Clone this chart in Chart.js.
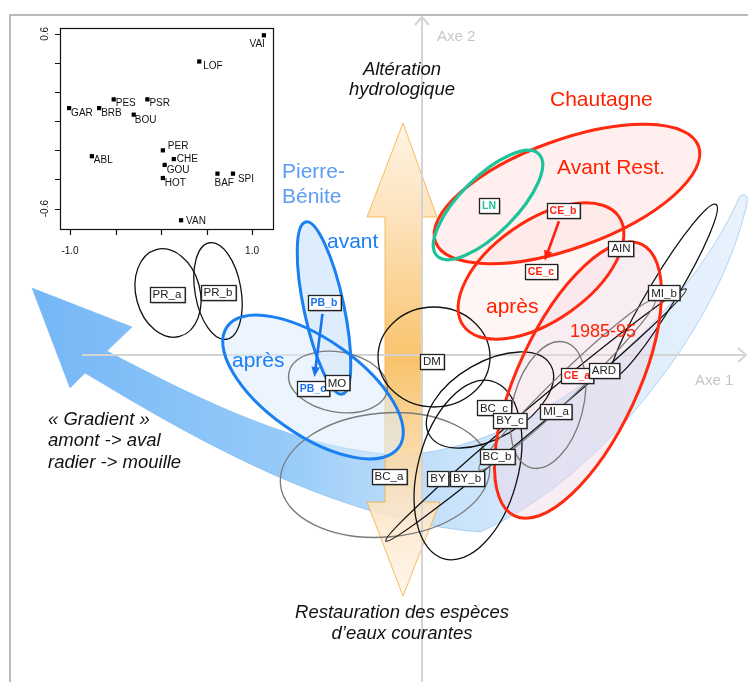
<!DOCTYPE html>
<html>
<head>
<meta charset="utf-8">
<script src="https://cdn.jsdelivr.net/npm/chart.js@4.4.1/dist/chart.umd.min.js"></script>
<style>
  html, body { margin: 0; padding: 0; background: #fff; }
  #wrap { position: relative; width: 748px; height: 682px; }
  #main { position: absolute; left: 0; top: 0; }
  #inset { position: absolute; left: 20px; top: 20px; }
</style>
</head>
<body>
<div id="wrap">
  <canvas id="main" width="748" height="682"></canvas>
  <canvas id="inset" width="262" height="240"></canvas>
</div>
<script>
// Sites on the main plane (Axe 1, Axe 2)
const siteNames = ['PR_a', 'PR_b', 'PB_b', 'PB_c', 'MO', 'DM', 'BC_c', 'BY_c', 'BC_b', 'BC_a',
                   'BY', 'BY_b', 'CE_a', 'ARD', 'MI_a', 'LN', 'CE_b', 'AIN', 'CE_c', 'MI_b'];
const siteX = [-2.55, -2.04, -0.98, -1.09, -0.85, 0.10, 0.72, 0.88, 0.75, -0.33,
               0.16, 0.45, 1.55, 1.82, 1.34, 0.67, 1.41, 1.99, 1.19, 2.42];
const siteY = [0.61, 0.63, 0.53, -0.33, -0.28, -0.06, -0.53, -0.65, -1.01, -1.21,
               -1.23, -1.23, -0.20, -0.15, -0.56, 1.50, 1.45, 1.07, 0.84, 0.62];

// Dispersion ellipses (centre, semi-axes, angle in degrees)
const ellipseKind  = ['black', 'black', 'gray', 'black', 'gray', 'black', 'black', 'black', 'black', 'gray', 'gray',
                      'pbAvant', 'pbApres', 'ce8595', 'ceAvant', 'ceApres', 'ln'];
const ellipseX     = [-2.54, -2.04, -0.84, 0.12, -0.37, 0.46, 0.68, 2.42, 1.14, 1.26, 1.45,
                      -0.98, -1.09, 1.56, 1.45, 1.19, 0.66];
const ellipseY     = [0.62, 0.64, -0.27, -0.02, -1.20, -1.15, -0.45, 0.64, -0.60, -0.50, -0.30,
                      0.47, -0.32, -0.25, 1.61, 0.84, 1.50];
const ellipseRx    = [0.32, 0.23, 0.50, 0.56, 1.05, 0.50, 0.70, 1.01, 1.96, 0.35, 1.22,
                      0.20, 1.05, 1.50, 1.40, 0.95, 0.72];
const ellipseRy    = [0.45, 0.49, 0.30, 0.50, 0.62, 0.92, 0.38, 0.14, 0.10, 0.65, 0.12,
                      0.88, 0.48, 0.60, 0.54, 0.50, 0.28];
const ellipseAngle = [15, 10, -10, 0, 5, -15, 30, 59, 40, -15, 44,
                      12, -35, 65, 20, 35, 45];

// Trajectories before -> after restoration
const arrowFrom = ['PB_b', 'CE_b'];
const arrowTo   = ['PB_c', 'CE_c'];

// Inset: species scores
const insetNames = ['VAI', 'LOF', 'PES', 'PSR', 'GAR', 'BRB', 'BOU', 'PER', 'ABL', 'CHE', 'GOU', 'HOT', 'BAF', 'SPI', 'VAN'];
const insetX = [1.13, 0.42, -0.52, -0.15, -1.01, -0.68, -0.30, 0.02, -0.76, 0.14, 0.04, 0.02, 0.62, 0.79, 0.22];
const insetY = [0.59, 0.41, 0.15, 0.15, 0.09, 0.09, 0.045, -0.20, -0.24, -0.26, -0.30, -0.39, -0.36, -0.36, -0.68];
const insetXTicks = [-1.0, -0.5, 0, 0.5, 1.0];
const insetYTicks = [-0.6, -0.4, -0.2, 0, 0.2, 0.4, 0.6];

const FONT = '"Liberation Sans", Arial, sans-serif';

// styles
const ellipseStyle = {
  black:   { color: '#111', width: 1.3 },
  gray:    { color: '#7a7a7a', width: 1.3 },
  pbAvant: { color: '#1a7ff0', width: 3, fill: 'rgba(214,232,252,0.8)' },
  pbApres: { color: '#1a7ff0', width: 3, fill: 'rgba(220,236,252,0.55)' },
  ce8595:  { color: '#ff2a10', width: 3, fill: 'rgba(240,215,228,0.45)' },
  ceAvant: { color: '#ff2a10', width: 3, fill: 'rgba(255,214,214,0.38)' },
  ceApres: { color: '#ff2a10', width: 3, fill: 'rgba(255,222,222,0.3)' },
  ln:      { color: '#1fc39a', width: 3.2 }
};
function siteColor(name) {
  if (name.startsWith('PB')) return '#1a73ea';
  if (name.startsWith('CE')) return '#ff1e10';
  if (name === 'LN') return '#1fc39a';
  return '#222';
}
const insetLabelOffset = {
  VAI: [1, 12, 'right'], LOF: [4, 7], PES: [2, 7], PSR: [2, 7], GAR: [2, 8], BRB: [2, 8], BOU: [1, 8],
  PER: [5, -1], ABL: [2, 7], CHE: [3, 3], GOU: [2, 8], HOT: [2, 8], BAF: [-3, 12], SPI: [5, 8], VAN: [5, 4]
};
const notes = [
  { t: 'Axe 1', x: 2.73, y: -0.30, f: '15px', c: '#c6c6c6', a: 'left' },
  { t: 'Axe 2', x: 0.15, y: 3.14, f: '15px', c: '#c6c6c6', a: 'left' },
  { t: 'Altération', x: -0.20, y: 2.80, f: 'italic 18.5px', c: '#111', a: 'center' },
  { t: 'hydrologique', x: -0.20, y: 2.60, f: 'italic 18.5px', c: '#111', a: 'center' },
  { t: 'Chautagne', x: 1.28, y: 2.49, f: '21px', c: '#ff2200', a: 'left' },
  { t: 'Avant Rest.', x: 1.35, y: 1.81, f: '21px', c: '#ff2200', a: 'left' },
  { t: 'Pierre-', x: -1.40, y: 1.77, f: '21px', c: '#5b9cf4', a: 'left' },
  { t: 'Bénite', x: -1.40, y: 1.52, f: '21px', c: '#5b9cf4', a: 'left' },
  { t: 'avant', x: -0.95, y: 1.07, f: '21px', c: '#1a7ff0', a: 'left' },
  { t: 'après', x: -1.90, y: -0.12, f: '21px', c: '#1a7ff0', a: 'left' },
  { t: 'après', x: 0.64, y: 0.42, f: '21px', c: '#ff2200', a: 'left' },
  { t: '1985-95', x: 1.48, y: 0.18, f: '18px', c: '#ff2200', a: 'left' },
  { t: '« Gradient »', x: -3.74, y: -0.70, f: 'italic 18.5px', c: '#111', a: 'left' },
  { t: 'amont -> aval', x: -3.74, y: -0.91, f: 'italic 18.5px', c: '#111', a: 'left' },
  { t: 'radier -> mouille', x: -3.74, y: -1.13, f: 'italic 18.5px', c: '#111', a: 'left' },
  { t: 'Restauration des espèces', x: -0.20, y: -2.63, f: 'italic 18.5px', c: '#111', a: 'center' },
  { t: 'd’eaux courantes', x: -0.20, y: -2.84, f: 'italic 18.5px', c: '#111', a: 'center' }
];

// blue "gradient" band and orange double arrow, in plane units
const band = [
  ['M', -3.90, 0.67], ['L', -2.90, 0.28], ['L', -3.15, 0.04],
  ['C', -2.22, -0.45, -1.22, -0.95, -0.22, -1.00],
  ['C', 1.08, -0.95, 2.58, 0.25, 3.18, 1.59],
  ['Q', 3.30, 1.65, 3.22, 1.40],
  ['C', 2.93, 0.25, 1.78, -1.25, 0.58, -1.77],
  ['C', -0.92, -1.65, -2.42, -0.75, -3.37, -0.18],
  ['L', -3.52, -0.33], ['Z']
];
const orangeArrow = [
  ['M', -0.19, 2.32], ['L', 0.15, 1.38], ['L', 0.00, 1.38], ['L', 0.00, -1.47], ['L', 0.18, -1.47],
  ['L', -0.19, -2.41], ['L', -0.55, -1.47], ['L', -0.37, -1.47], ['L', -0.37, 1.38], ['L', -0.55, 1.38], ['Z']
];

function tracePath(ctx, sx, sy, cmds) {
  ctx.beginPath();
  cmds.forEach(c => {
    const p = [];
    for (let i = 1; i < c.length; i += 2) p.push(sx(c[i]), sy(c[i + 1]));
    if (c[0] === 'M') ctx.moveTo(p[0], p[1]);
    else if (c[0] === 'L') ctx.lineTo(p[0], p[1]);
    else if (c[0] === 'Q') ctx.quadraticCurveTo(p[0], p[1], p[2], p[3]);
    else if (c[0] === 'C') ctx.bezierCurveTo(p[0], p[1], p[2], p[3], p[4], p[5]);
    else ctx.closePath();
  });
}

function drawArrow(ctx, x1, y1, x2, y2, color, w, head) {
  const a = Math.atan2(y2 - y1, x2 - x1);
  ctx.strokeStyle = color; ctx.fillStyle = color; ctx.lineWidth = w;
  ctx.beginPath();
  ctx.moveTo(x1, y1);
  ctx.lineTo(x2 - Math.cos(a) * head * 0.8, y2 - Math.sin(a) * head * 0.8);
  ctx.stroke();
  ctx.beginPath();
  ctx.moveTo(x2, y2);
  ctx.lineTo(x2 - head * Math.cos(a - 0.4), y2 - head * Math.sin(a - 0.4));
  ctx.lineTo(x2 - head * Math.cos(a + 0.4), y2 - head * Math.sin(a + 0.4));
  ctx.closePath();
  ctx.fill();
}

const planeDecor = {
  id: 'planeDecor',
  beforeDatasetsDraw(chart) {
    const ctx = chart.ctx;
    const xs = chart.scales.x, ys = chart.scales.y;
    const sx = v => xs.getPixelForValue(v), sy = v => ys.getPixelForValue(v);
    const u = sx(1) - sx(0);
    ctx.save();

    // outer frame
    ctx.strokeStyle = '#a4a4a4'; ctx.lineWidth = 1.5;
    ctx.beginPath(); ctx.moveTo(748, 15); ctx.lineTo(10, 15); ctx.lineTo(10, 682); ctx.stroke();

    // blue gradient band
    tracePath(ctx, sx, sy, band);
    let g = ctx.createLinearGradient(sx(-3.9), 0, sx(3.26), 0);
    g.addColorStop(0, 'rgba(108,178,246,0.95)');
    g.addColorStop(0.35, 'rgba(135,195,247,0.88)');
    g.addColorStop(0.6, 'rgba(180,216,249,0.7)');
    g.addColorStop(1, 'rgba(215,232,251,0.55)');
    ctx.fillStyle = g; ctx.fill();
    ctx.strokeStyle = 'rgba(120,180,240,0.55)'; ctx.lineWidth = 1; ctx.stroke();

    // orange double arrow
    tracePath(ctx, sx, sy, orangeArrow);
    g = ctx.createLinearGradient(0, sy(2.32), 0, sy(-2.41));
    g.addColorStop(0, 'rgba(255,243,225,0.95)');
    g.addColorStop(0.2, 'rgba(253,225,185,0.95)');
    g.addColorStop(0.5, 'rgba(248,192,100,0.95)');
    g.addColorStop(0.8, 'rgba(253,228,195,0.9)');
    g.addColorStop(1, 'rgba(255,246,235,0.9)');
    ctx.fillStyle = g; ctx.fill();
    ctx.strokeStyle = 'rgba(246,176,70,0.85)'; ctx.lineWidth = 1; ctx.stroke();

    // axes
    ctx.strokeStyle = '#d4d4d4'; ctx.lineWidth = 2;
    ctx.beginPath();
    ctx.moveTo(sx(-3.40), sy(0)); ctx.lineTo(sx(3.24), sy(0));
    ctx.moveTo(sx(0), sy(-3.27)); ctx.lineTo(sx(0), sy(3.38));
    ctx.stroke();
    ctx.beginPath();
    ctx.moveTo(sx(3.24) - 8, sy(0) - 7); ctx.lineTo(sx(3.24), sy(0)); ctx.lineTo(sx(3.24) - 8, sy(0) + 7);
    ctx.moveTo(sx(0) - 7, sy(3.38) + 8); ctx.lineTo(sx(0), sy(3.38)); ctx.lineTo(sx(0) + 7, sy(3.38) + 8);
    ctx.stroke();

    // ellipses: fills first, then outlines
    const shape = i => {
      ctx.beginPath();
      ctx.ellipse(sx(ellipseX[i]), sy(ellipseY[i]), ellipseRx[i] * u, ellipseRy[i] * u,
                  -ellipseAngle[i] * Math.PI / 180, 0, 2 * Math.PI);
    };
    ellipseKind.forEach((k, i) => {
      const st = ellipseStyle[k];
      if (!st.fill) return;
      shape(i);
      ctx.fillStyle = st.fill; ctx.fill();
    });
    ellipseKind.forEach((k, i) => {
      const st = ellipseStyle[k];
      shape(i);
      ctx.strokeStyle = st.color; ctx.lineWidth = st.width; ctx.stroke();
    });
    ctx.restore();
  },
  afterDatasetsDraw(chart) {
    const ctx = chart.ctx;
    const xs = chart.scales.x, ys = chart.scales.y;
    const sx = v => xs.getPixelForValue(v), sy = v => ys.getPixelForValue(v);
    ctx.save();

    // trajectories
    arrowFrom.forEach((f, i) => {
      const a = siteNames.indexOf(f), b = siteNames.indexOf(arrowTo[i]);
      const x1 = sx(siteX[a]), y1 = sy(siteY[a]), x2 = sx(siteX[b]), y2 = sy(siteY[b]);
      const d = Math.hypot(x2 - x1, y2 - y1);
      const ux = (x2 - x1) / d, uy = (y2 - y1) / d;
      drawArrow(ctx, x1 + ux * 12, y1 + uy * 12, x2 - ux * 11, y2 - uy * 11, siteColor(f), 2.6, 11);
    });

    // site label boxes
    siteNames.forEach((n, i) => {
      const x = sx(siteX[i]), y = sy(siteY[i]);
      const col = siteColor(n);
      const bold = col !== '#222';
      ctx.font = (bold ? 'bold 10.5px ' : '11.5px ') + FONT;
      const w = ctx.measureText(n).width + 6, h = 15;
      ctx.fillStyle = 'rgba(90,90,90,0.55)';
      ctx.fillRect(Math.round(x - w / 2) + 1.5, Math.round(y - h / 2) + 1.5, w, h);
      ctx.fillStyle = '#fff';
      ctx.fillRect(Math.round(x - w / 2), Math.round(y - h / 2), w, h);
      ctx.strokeStyle = '#222'; ctx.lineWidth = 1.3;
      ctx.strokeRect(Math.round(x - w / 2) + 0.5, Math.round(y - h / 2) + 0.5, w, h);
      ctx.fillStyle = col; ctx.textAlign = 'center'; ctx.textBaseline = 'middle';
      ctx.fillText(n, x, y + 1);
    });

    // annotations
    ctx.textBaseline = 'alphabetic';
    notes.forEach(o => {
      ctx.font = o.f + ' ' + FONT;
      ctx.fillStyle = o.c; ctx.textAlign = o.a;
      ctx.fillText(o.t, sx(o.x), sy(o.y));
    });
    ctx.restore();
  }
};

new Chart(document.getElementById('main'), {
  type: 'scatter',
  data: {
    datasets: [{
      label: 'Sites',
      data: siteX.map((x, i) => ({ x: x, y: siteY[i] })),
      pointRadius: 0
    }]
  },
  options: {
    responsive: false,
    animation: false,
    devicePixelRatio: 1,
    layout: { padding: 0 },
    scales: {
      x: { type: 'linear', display: false, min: -4.22, max: 3.26 },
      y: { type: 'linear', display: false, min: -3.27, max: 3.55 }
    },
    plugins: { legend: { display: false }, tooltip: { enabled: false } }
  },
  plugins: [planeDecor]
});

// inset frame, ticks and species labels
const insetDecor = {
  id: 'insetDecor',
  afterDatasetsDraw(chart) {
    const ctx = chart.ctx, a = chart.chartArea;
    const xs = chart.scales.x, ys = chart.scales.y;
    ctx.save();
    ctx.strokeStyle = '#111'; ctx.lineWidth = 1.2;
    ctx.strokeRect(a.left + 0.5, a.top + 0.5, a.right - a.left, a.bottom - a.top);
    ctx.beginPath();
    insetXTicks.forEach(v => {
      const x = Math.round(xs.getPixelForValue(v)) + 0.5;
      ctx.moveTo(x, a.bottom); ctx.lineTo(x, a.bottom + 6);
    });
    insetYTicks.forEach(v => {
      const y = Math.round(ys.getPixelForValue(v)) + 0.5;
      ctx.moveTo(a.left - 5, y); ctx.lineTo(a.left, y);
    });
    ctx.stroke();
    ctx.fillStyle = '#111';
    ctx.font = '10px ' + FONT;
    ctx.textAlign = 'center'; ctx.textBaseline = 'alphabetic';
    [-1.0, 1.0].forEach(v => ctx.fillText(v.toFixed(1), xs.getPixelForValue(v), a.bottom + 25));
    [-0.6, 0.6].forEach(v => {
      ctx.save();
      ctx.translate(a.left - 15, ys.getPixelForValue(v));
      ctx.rotate(-Math.PI / 2);
      ctx.textBaseline = 'middle';
      ctx.fillText(v.toFixed(1), 0, 0);
      ctx.restore();
    });
    insetNames.forEach((n, i) => {
      const off = insetLabelOffset[n];
      ctx.textAlign = off[2] || 'left';
      ctx.fillText(n, xs.getPixelForValue(insetX[i]) + off[0], ys.getPixelForValue(insetY[i]) + off[1]);
    });
    ctx.restore();
  }
};

new Chart(document.getElementById('inset'), {
  type: 'scatter',
  data: {
    datasets: [{
      label: 'Espèces',
      data: insetX.map((x, i) => ({ x: x, y: insetY[i] })),
      pointStyle: 'rect',
      pointRadius: 3,
      backgroundColor: '#000',
      borderWidth: 0
    }]
  },
  options: {
    responsive: false,
    animation: false,
    devicePixelRatio: 1,
    layout: { padding: { left: 40, right: 9, top: 8, bottom: 31 } },
    scales: {
      x: { type: 'linear', display: false, min: -1.11, max: 1.23 },
      y: { type: 'linear', display: false, min: -0.74, max: 0.64 }
    },
    plugins: { legend: { display: false }, tooltip: { enabled: false } }
  },
  plugins: [insetDecor]
});
</script>
</body>
</html>
